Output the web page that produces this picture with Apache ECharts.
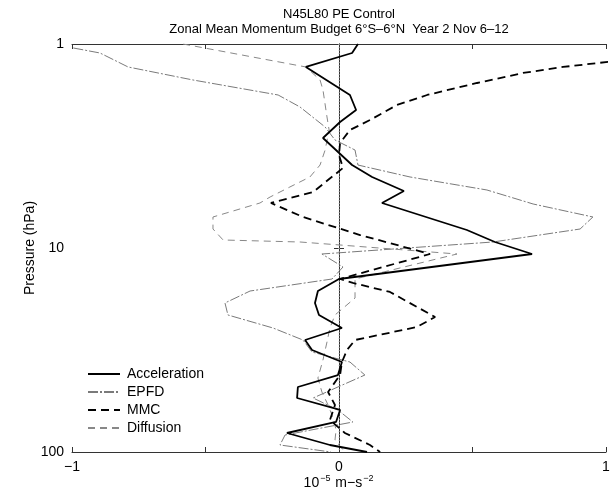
<!DOCTYPE html>
<html><head><meta charset="utf-8">
<script src="https://cdn.jsdelivr.net/npm/echarts@6/dist/echarts.min.js"></script>
<style>html,body{margin:0;padding:0;background:#fff}#c{width:616px;height:491px}</style>
</head><body><div id="c"></div>
<script>
// Pressure levels (hPa) and values (10^-5 m s^-2)
const accP = [1.0, 1.107, 1.296, 1.778, 2.106, 2.412, 2.889, 3.920, 4.486, 5.255, 6.017, 8.160, 9.345, 10.70, 14.19, 16.25, 18.60, 21.30, 24.67, 28.25, 31.62, 36.22, 41.94, 48.02, 54.36, 62.24, 71.27, 80.70, 92.4, 100];
const accX = [0.071, 0.049, -0.124, 0.041, 0.064, 0.004, -0.06, 0.049, 0.124, 0.243, 0.161, 0.479, 0.584, 0.723, 0.0, -0.079, -0.09, -0.075, 0.011, -0.127, -0.101, 0.011, -0.004, -0.154, -0.157, 0.004, -0.011, -0.195, -0.034, 0.105];

const epfdP = [1.046, 1.107, 1.296, 1.501, 1.778, 2.036, 2.552, 2.955, 3.309, 3.920, 4.486, 5.196, 6.085, 7.047, 8.070, 9.345, 10.70, 12.39, 14.19, 16.25, 18.60, 21.30, 24.67, 28.25, 32.35, 36.22, 41.94, 54.36, 62.24, 71.27, 82.54, 92.4, 100];
const epfdX = [-0.995, -0.895, -0.790, -0.547, -0.228, -0.146, -0.052, -0.015, 0.060, 0.071, 0.266, 0.554, 0.727, 0.951, 0.903, 0.577, -0.064, 0.015, -0.026, -0.333, -0.427, -0.416, -0.247, -0.135, -0.101, 0.041, 0.097, -0.097, -0.004, 0.052, -0.202, -0.221, -0.03];

const mmcP = [1.107, 1.198, 1.296, 1.387, 1.553, 1.778, 1.991, 2.359, 2.640, 3.058, 3.500, 4.053, 5.315, 6.017, 7.047, 8.638, 10.70, 14.19, 14.84, 16.43, 21.79, 24.39, 28.25, 31.62, 36.22, 41.94, 50.8, 58.84, 69.68, 80.70, 92.4, 100];
const mmcX = [1.2, 1.07, 0.839, 0.689, 0.517, 0.330, 0.217, 0.116, 0.041, 0.004, 0.0, 0.015, -0.097, -0.255, -0.135, 0.079, 0.341, 0.004, 0.052, 0.191, 0.36, 0.292, 0.06, 0.03, 0.011, 0.004, -0.041, -0.015, -0.034, 0.022, 0.116, 0.154];

const difP = [1.0, 1.296, 1.501, 1.681, 2.279, 2.640, 3.309, 3.920, 4.486, 5.023, 5.623, 6.017, 7.047, 8.070, 9.137, 9.345, 9.667, 10.70, 14.19, 17.59, 21.30, 24.67, 28.89, 35.40, 43.38, 50.8, 58.84, 68.13, 78.01, 87.36, 100];
const difX = [-0.584, -0.124, -0.071, -0.060, -0.045, -0.037, -0.052, -0.071, -0.109, -0.184, -0.258, -0.296, -0.472, -0.472, -0.434, -0.146, 0.004, 0.442, 0.06, 0.06, -0.015, -0.034, -0.045, -0.06, -0.079, -0.064, -0.041, -0.022, -0.011, -0.015, 0.022];

const zeroLineP = [1, 100];
const zeroLineX = [0, 0];

const seriesNames = ['Acceleration', 'EPFD', 'MMC', 'Diffusion'];
const titleLines = ['N45L80 PE Control', 'Zonal Mean Momentum Budget 6\u00b0S\u20136\u00b0N  Year 2 Nov 6\u201312'];
const xTickLabels = {'-1': '\u22121', '0': '0', '1': '1'};
const yTickLabels = {'1': '1', '10': '10', '100': '100'};

const zip = (xs, ps) => xs.map((x, i) => [x, ps[i]]);
const FONT = '"Liberation Sans", Arial, Helvetica, sans-serif';
const chart = echarts.init(document.getElementById('c'), null, {renderer: 'canvas'});

const axisCommon = {
  axisLine: {show: true, lineStyle: {color: '#333', width: 1}},
  axisTick: {show: true, inside: true, length: 5, lineStyle: {color: '#333'}},
  splitLine: {show: false},
  minorTick: {show: false}
};

chart.setOption({
  animation: false,
  backgroundColor: '#fff',
  textStyle: {fontFamily: FONT},
  graphic: [
    {type: 'text', x: 339, y: 14, style: {text: titleLines[0], font: '13px ' + FONT, fill: '#000', align: 'center', verticalAlign: 'middle', textAlign: 'center', textVerticalAlign: 'middle'}},
    {type: 'text', x: 339, y: 29, style: {text: titleLines[1], font: '13px ' + FONT, fill: '#000', align: 'center', verticalAlign: 'middle', textAlign: 'center', textVerticalAlign: 'middle'}}
  ],
  grid: {left: 72, right: 10, top: 44, bottom: 39, containLabel: false, outerBoundsMode: 'none'},
  legend: {
    data: seriesNames,
    orient: 'vertical', left: 82, top: 362,
    itemWidth: 32, itemHeight: 14, itemGap: 4,
    itemStyle: {opacity: 0, borderWidth: 0},
    textStyle: {fontSize: 14, color: '#000', fontFamily: FONT, padding: [0, 0, 0, 2]}
  },
  xAxis: [
    Object.assign({}, axisCommon, {
      type: 'value', position: 'bottom', min: -1, max: 1, interval: 0.5,
      axisLabel: {show: true, margin: 8, fontSize: 14, color: '#000', fontFamily: FONT,
        formatter: v => (xTickLabels[String(v)] !== undefined ? xTickLabels[String(v)] : '')},
      name: '{b|10}{s|\u22125}{b| m\u2212s}{s|\u22122}', nameLocation: 'middle', nameGap: 30,
      nameMoveOverlap: false,
      nameTextStyle: {fontFamily: FONT, color: '#000', verticalAlign: 'middle', rich: {
        b: {fontSize: 14, fontFamily: FONT, color: '#000', lineHeight: 16, verticalAlign: 'bottom'},
        s: {fontSize: 9, fontFamily: FONT, color: '#000', lineHeight: 16, verticalAlign: 'top', padding: [0, 1, 0, 1]}
      }}
    }),
    Object.assign({}, axisCommon, {
      type: 'value', position: 'top', min: -1, max: 1, interval: 0.5,
      axisLabel: {show: false}
    })
  ],
  yAxis: [
    Object.assign({}, axisCommon, {
      type: 'log', logBase: 10, min: 1, max: 100, inverse: true, position: 'left',
      axisLabel: {show: true, margin: 8, fontSize: 14, color: '#000', fontFamily: FONT,
        formatter: v => (yTickLabels[String(Math.round(v))] || '')},
      name: 'Pressure (hPa)', nameLocation: 'middle', nameGap: 42, nameRotate: 90,
      nameMoveOverlap: false,
      nameTextStyle: {fontSize: 14, color: '#000', fontFamily: FONT, verticalAlign: 'middle'}
    }),
    Object.assign({}, axisCommon, {
      type: 'log', logBase: 10, min: 1, max: 100, inverse: true, position: 'right',
      axisLabel: {show: false}
    })
  ],
  series: [
    {
      name: 'zero', type: 'line', data: zip(zeroLineX, zeroLineP), symbol: 'none', silent: true,
      lineStyle: {color: '#cccccc', width: 1, type: [1, 2]}, z: 1
    },
    {
      name: 'Acceleration', type: 'line', data: zip(accX, accP), symbol: 'none', clip: true,
      lineStyle: {color: '#000', width: 1.8}, itemStyle: {color: '#000'}, z: 5
    },
    {
      name: 'EPFD', type: 'line', data: zip(epfdX, epfdP), symbol: 'none', clip: true,
      lineStyle: {color: '#7a7a7a', width: 1, type: [10, 2, 2, 2]}, itemStyle: {color: '#7a7a7a'}, z: 3
    },
    {
      name: 'MMC', type: 'line', data: zip(mmcX, mmcP), symbol: 'none', clip: true,
      lineStyle: {color: '#000', width: 1.8, type: [8, 5]}, itemStyle: {color: '#000'}, z: 4
    },
    {
      name: 'Diffusion', type: 'line', data: zip(difX, difP), symbol: 'none', clip: true,
      lineStyle: {color: '#888', width: 1, type: [7, 5]}, itemStyle: {color: '#888'}, z: 3
    }
  ]
});
</script>
</body></html>
